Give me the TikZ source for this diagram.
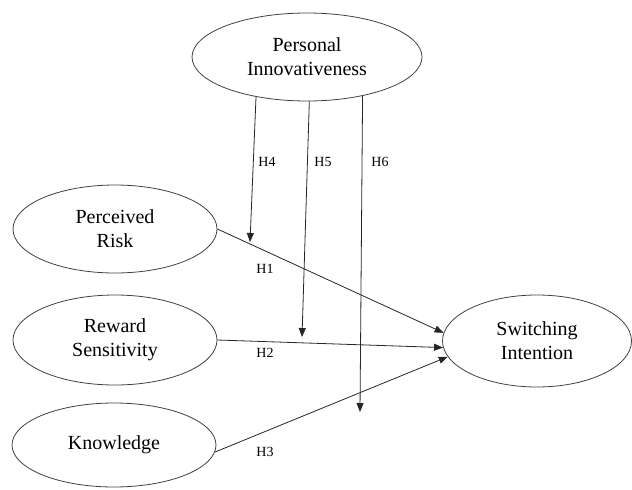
\documentclass[tikz,border=0pt]{standalone}
\usepackage{fontspec}
\setmainfont{Liberation Serif}
\usetikzlibrary{shapes.geometric,arrows.meta}
\begin{document}
\begin{tikzpicture}[x=1pt,y=-1pt,
  construct/.style={ellipse,draw=black!75,line width=0.8pt,inner sep=0pt,
    align=center,font=\fontsize{20}{24}\selectfont},
  path/.style={draw=black!85,line width=0.8pt,-{Triangle[length=9pt,width=7pt]}},
  hlabel/.style={font=\fontsize{14}{16}\selectfont,inner sep=0pt}]
\useasboundingbox (0,0) rectangle (632,490);
\node[construct,minimum width=230pt,minimum height=88pt] (pi) at (307,57) {Personal\\Innovativeness};
\node[construct,minimum width=204pt,minimum height=88pt] (pr) at (115,229) {Perceived\\Risk};
\node[construct,minimum width=204pt,minimum height=90pt] (rs) at (115,340) {Reward\\Sensitivity};
\node[construct,minimum width=204pt,minimum height=84pt] (kn) at (114,445) {Knowledge};
\node[construct,minimum width=189pt,minimum height=92pt] (si) at (537,341) {Switching\\Intention};
\coordinate (t4) at (250,242);
\coordinate (t5) at (302,337);
\coordinate (t6) at (360,412);
\draw[path] (pi.-142) -- (t4);
\draw[path] (pi.-87) -- (t5);
\draw[path] (pi.-35) -- (t6);
\draw[path] (pr.east) -- (si.175);
\draw[path] (rs.east) -- (si.184);
\draw[path] (kn.-4) -- (si.190);
\node[hlabel] (h4) at (267,162) {H4};
\node[hlabel] (h5) at (323,162) {H5};
\node[hlabel] (h6) at (380,162) {H6};
\node[hlabel] (h1) at (265,269) {H1};
\node[hlabel] (h2) at (265,353) {H2};
\node[hlabel] (h3) at (265,452) {H3};
\end{tikzpicture}
\end{document}
